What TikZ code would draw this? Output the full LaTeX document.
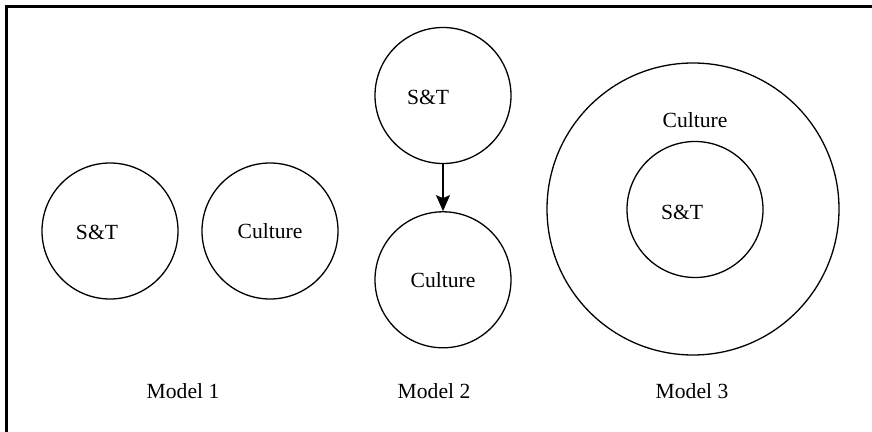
\documentclass[tikz,border=0pt]{standalone}
\usepackage{fontspec}
\setmainfont{Liberation Serif}
\usetikzlibrary{positioning,arrows.meta}

\begin{document}
\begin{tikzpicture}[x=0.5pt,y=-0.5pt,
		roundnode/.style={circle, draw=black, line width=0.65pt, minimum size=68pt, inner sep=0pt},
		bignode/.style={roundnode, minimum size=146pt},
		txt/.style={inner sep=0pt, font=\fontsize{10.8}{13}\selectfont},
		node distance=23.5pt
	]

	\useasboundingbox (0,0) rectangle (872,432);
	\draw[line width=1.2pt] (6.5,432) -- (6.5,6.5) -- (872,6.5);

	% Model 1
	\node[roundnode] (st1) at (110,231) {};
	\node[txt] (st1txt) at (97,232) {S\&T};
	\node[roundnode, font=\fontsize{10.8}{13}\selectfont] (cul1) at (270,231) {Culture};
	\node[txt] (m1) at (183,391) {Model 1};

	% Model 2
	\node[roundnode] (st2) at (443,95.5) {};
	\node[txt] (st2txt) at (428,97) {S\&T};
	\node[roundnode, font=\fontsize{10.8}{13}\selectfont] (cul2) [below=of st2] {Culture};
	\draw[-{Stealth[length=8pt, width=7pt, inset=1.5pt]}, line width=0.75pt] (st2.south) -- (cul2.north);
	\node[txt] (m2) at (434,391) {Model 2};

	% Model 3
	\node[bignode] (cul3) at (693,209) {};
	\node[txt] (cul3txt) at (695,120) {Culture};
	\node[roundnode] (st3) at (695,209.5) {};
	\node[txt] (st3txt) at (682,212) {S\&T};
	\node[txt] (m3) at (692,391) {Model 3};

\end{tikzpicture}
\end{document}
